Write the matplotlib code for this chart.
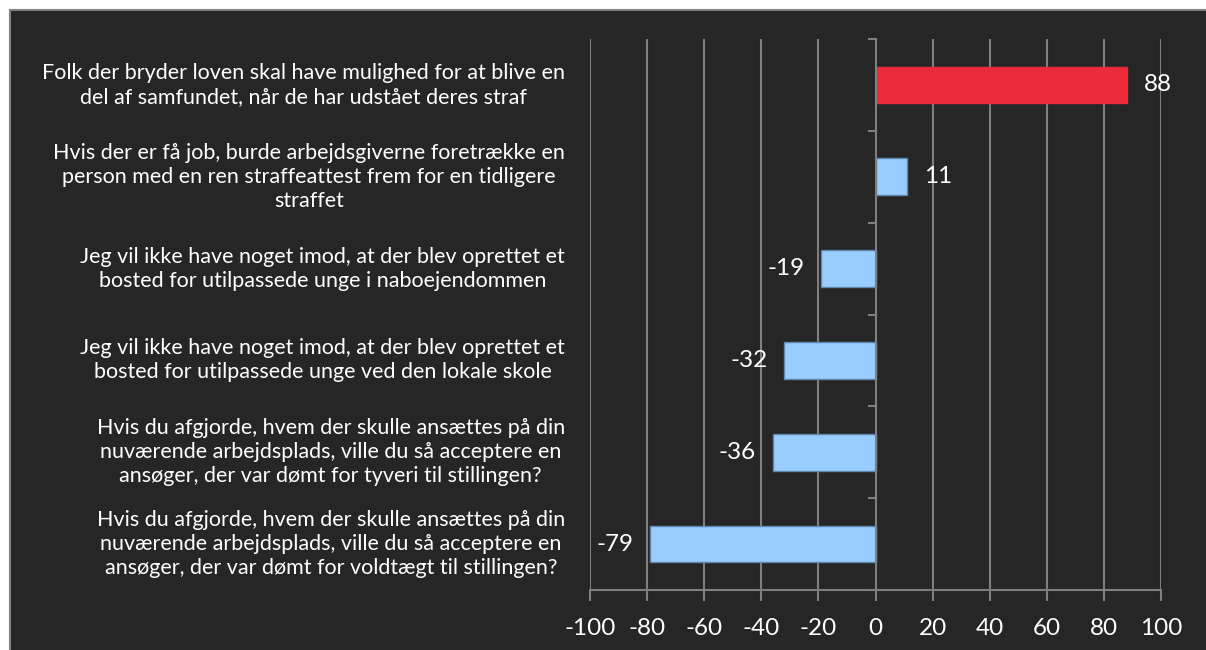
import matplotlib.pyplot as plt
from matplotlib.patches import Rectangle
import matplotlib.transforms as mtransforms

statements = [
    "Folk der bryder loven skal have mulighed for at blive en\ndel af samfundet, når de har udstået deres straf",
    "Hvis der er få job, burde arbejdsgiverne foretrække en\nperson med en ren straffeattest frem for en tidligere\nstraffet",
    "Jeg vil ikke have noget imod, at der blev oprettet et\nbosted for utilpassede unge i naboejendommen",
    "Jeg vil ikke have noget imod, at der blev oprettet et\nbosted for utilpassede unge ved den lokale skole",
    "Hvis du afgjorde, hvem der skulle ansættes på din\nnuværende arbejdsplads, ville du så acceptere en\nansøger, der var dømt for tyveri til stillingen?",
    "Hvis du afgjorde, hvem der skulle ansættes på din\nnuværende arbejdsplads, ville du så acceptere en\nansøger, der var dømt for voldtægt til stillingen?",
]
scores = [88, 11, -19, -32, -36, -79]
xticks = [-100, -80, -60, -40, -20, 0, 20, 40, 60, 80, 100]

bg = '#262626'
grid_c = '#7f7f7f'
plt.rcParams['font.family'] = ['Lato', 'DejaVu Sans']

fig = plt.figure(figsize=(12.06, 6.5), dpi=100, facecolor='white')
fig.patches.append(Rectangle((10 / 1206, -0.05), 1.1, 1 - 10 / 650 + 0.05,
                             transform=fig.transFigure, facecolor=bg,
                             edgecolor='#808080', linewidth=1.5, zorder=-1))

ax = fig.add_axes([590 / 1206, 1 - 590 / 650, 571 / 1206, 551 / 650])
ax.set_facecolor(bg)

n = len(scores)
ypos = list(range(n - 1, -1, -1))
colors = ['#ec2b3a'] + ['#99ccff'] * (n - 1)
edges = ['#ec2b3a'] + ['#5f86ad'] * (n - 1)
ax.barh(ypos, scores, height=0.4, color=colors, edgecolor=edges, linewidth=1, zorder=3)

ax.set_xlim(-100, 100)
ax.set_ylim(-0.5, n - 0.5)
ax.set_xticks(xticks)
ax.set_xticklabels([str(t) for t in xticks], fontsize=17.5, color='white')
ax.tick_params(axis='x', length=8, width=1.5, color=grid_c, pad=12)
for t in xticks:
    if t != 0:
        ax.axvline(t, color=grid_c, linewidth=1.5, zorder=1)

ax.set_yticks([i - 0.5 for i in range(n + 1)])
ax.set_yticklabels([])
ax.tick_params(axis='y', length=6, width=1.5, color=grid_c)

for s in ['top', 'right']:
    ax.spines[s].set_visible(False)
ax.spines['left'].set_position(('data', 0))
ax.spines['left'].set_color(grid_c)
ax.spines['left'].set_linewidth(1.5)
ax.spines['left'].set_zorder(4)
ax.spines['bottom'].set_color(grid_c)
ax.spines['bottom'].set_linewidth(1.5)

trans = mtransforms.blended_transform_factory(ax.transAxes, ax.transData)
for y, txt in zip(ypos, statements):
    ax.text(-0.044, y, txt, transform=trans, ha='right', va='center',
            multialignment='center', color='white', fontsize=15.5,
            linespacing=1.25)

for y, v in zip(ypos, scores):
    off = 12 if v >= 0 else -12
    ax.annotate(str(v), (v, y), xytext=(off, 0), textcoords='offset points',
                ha='left' if v >= 0 else 'right', va='center',
                color='white', fontsize=17.5, zorder=5)

plt.savefig('out.png', dpi=100, facecolor=fig.get_facecolor())
